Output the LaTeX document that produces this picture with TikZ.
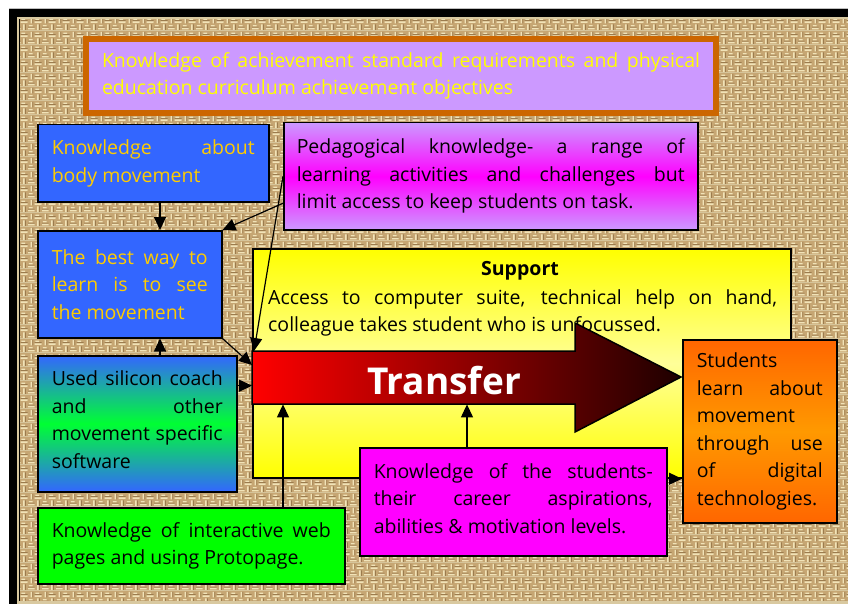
\documentclass[tikz,border=0pt]{standalone}
\usepackage{fontspec}
\setmainfont{Open Sans}
\usetikzlibrary{arrows.meta,patterns,calc}
\definecolor{burlap}{HTML}{C6A673}
\definecolor{burlaplight}{HTML}{F1E3B8}
\definecolor{burlapdark}{HTML}{84643A}
\definecolor{frameedge}{HTML}{D9C9A0}
\definecolor{lilac}{HTML}{CC99FF}
\definecolor{rustedge}{HTML}{CC6600}
\definecolor{topyellow}{HTML}{FFFF00}
\definecolor{boxblue}{HTML}{3366FF}
\definecolor{goldtext}{HTML}{FFCC00}
\definecolor{magenta2}{HTML}{FF00FF}
\definecolor{limegreen2}{HTML}{00FF33}
\definecolor{puregreen}{HTML}{00FF00}
\definecolor{paleyellow}{HTML}{FFFF99}
\definecolor{orangedeep}{HTML}{FF6600}
\definecolor{orangelight}{HTML}{FF9900}
\definecolor{arrowred}{HTML}{FF0000}
\definecolor{arrowdark}{HTML}{1E0000}
\pgfdeclarepatterninherentlycolored{burlapweave}{\pgfpointorigin}{\pgfpoint{14pt}{14pt}}{\pgfpoint{14pt}{14pt}}{%
  \pgfsetfillcolor{burlap}%
  \pgfpathrectangle{\pgfpointorigin}{\pgfpoint{14pt}{14pt}}\pgfusepath{fill}%
  \pgfsetlinewidth{1.5pt}\pgfsetstrokecolor{burlaplight}%
  \pgfpathmoveto{\pgfpoint{0pt}{1.5pt}}\pgfpathlineto{\pgfpoint{7pt}{1.5pt}}%
  \pgfpathmoveto{\pgfpoint{7pt}{8.5pt}}\pgfpathlineto{\pgfpoint{14pt}{8.5pt}}%
  \pgfpathmoveto{\pgfpoint{10.5pt}{0pt}}\pgfpathlineto{\pgfpoint{10.5pt}{6pt}}%
  \pgfpathmoveto{\pgfpoint{3.5pt}{7pt}}\pgfpathlineto{\pgfpoint{3.5pt}{13pt}}%
  \pgfpathmoveto{\pgfpoint{1pt}{4.5pt}}\pgfpathlineto{\pgfpoint{5pt}{4.5pt}}%
  \pgfpathmoveto{\pgfpoint{8pt}{11.5pt}}\pgfpathlineto{\pgfpoint{12pt}{11.5pt}}%
  \pgfusepath{stroke}%
  \pgfsetlinewidth{0.6pt}\pgfsetstrokecolor{burlapdark}%
  \pgfpathmoveto{\pgfpoint{0pt}{3pt}}\pgfpathlineto{\pgfpoint{7pt}{3pt}}%
  \pgfpathmoveto{\pgfpoint{7pt}{10pt}}\pgfpathlineto{\pgfpoint{14pt}{10pt}}%
  \pgfpathmoveto{\pgfpoint{12.2pt}{0pt}}\pgfpathlineto{\pgfpoint{12.2pt}{6pt}}%
  \pgfpathmoveto{\pgfpoint{5.2pt}{7pt}}\pgfpathlineto{\pgfpoint{5.2pt}{13pt}}%
  \pgfusepath{stroke}%
}
\newcommand\bxfont{\fontsize{19.5}{27.5}\selectfont\hyphenpenalty=10000\relax}
\tikzset{
  box/.style={draw=black, line width=1.5pt, inner xsep=14pt, inner ysep=3pt,
    anchor=north west, align=justify, font=\bxfont},
  arr/.style={line width=1.2pt, -{Triangle[length=13pt,width=12pt]}},
}
\begin{document}
\begin{tikzpicture}[x=1pt,y=-1pt]
\useasboundingbox (0,0) rectangle (848,604);
\clip (0,0) rectangle (848,604);
% frame and background
\fill[white] (0,0) rectangle (848,604);
\draw[black!25, line width=0.8pt] (9,8) -- (848,8);
\fill[black] (9,9) rectangle (870,620);
\fill[frameedge] (17,17) rectangle (870,620);
\draw[black, line width=1pt] (19.5,19.5) rectangle (880,600.5);
\fill[pattern=burlapweave] (20,20) rectangle (880,600);
% top box
\node[box, draw=rustedge, line width=6pt, fill=lilac, text=topyellow,
  minimum width=630, minimum height=74, inner xsep=16pt, text width=598pt] (top) at (83,36)
  {Knowledge of achievement standard requirements and physical\linebreak education curriculum achievement objectives};
% left column
\node[box, fill=boxblue, text=goldtext, minimum width=231, minimum height=77, text width=203pt] (body) at (37,124)
  {Knowledge about\linebreak body movement};
\node[box, top color=lilac, bottom color=lilac, middle color=magenta2, minimum width=414, minimum height=107,
  inner xsep=13pt, text width=388pt] (pedag) at (283,122)
  {Pedagogical knowledge- a range of\linebreak learning activities and challenges but\linebreak limit access to keep students on task.};
\node[box, fill=boxblue, text=goldtext, minimum width=184, minimum height=107, text width=156pt] (best) at (37,230)
  {The best way to\linebreak learn is to see\linebreak the movement};
% support box
\node[box, top color=topyellow, bottom color=topyellow, middle color=paleyellow,
  minimum width=538, minimum height=229] (support) at (252,248) {};
\node[font=\bxfont\bfseries, inner sep=0pt] (suphead) at (520,271) {Support};
\node[font=\bxfont, anchor=north west, inner sep=0pt, text width=509pt, align=justify] (suptext) at (268,289)
  {Access to computer suite, technical help on hand,\linebreak colleague takes student who is unfocussed.};
% transfer arrow
\shadedraw[left color=arrowred, right color=arrowdark, draw=black, line width=1.5pt, line join=miter]
  (252,351) -- (575,351) -- (575,323) -- (681,377) -- (575,432) -- (575,404) -- (252,404) -- cycle;
\node[inner sep=0pt, minimum width=323, minimum height=53, anchor=north west] (tbody) at (252,351) {};
\node[text=white, font=\fontsize{37}{40}\selectfont\bfseries, inner sep=0pt] (transfer) at (444,381) {Transfer};
% other boxes
\node[box, top color=boxblue, bottom color=boxblue, middle color=limegreen2, minimum width=199, minimum height=136,
  text width=171pt] (silicon) at (37,355)
  {Used silicon coach\linebreak and other\linebreak movement specific\linebreak software\vspace{8pt}};
\node[box, fill=puregreen, minimum width=307, minimum height=76, text width=279pt] (green) at (37,507)
  {Knowledge of interactive web\linebreak pages and using Protopage.};
\node[box, fill=magenta2, minimum width=307, minimum height=108, text width=279pt] (mag) at (359,447)
  {Knowledge of the students-\linebreak their career aspirations,\linebreak abilities \& motivation levels.\vspace{7pt}};
\node[box, top color=orangedeep, bottom color=orangedeep, middle color=orangelight, minimum width=154, minimum height=183,
  text width=126pt] (orange) at (682,339)
  {Students\linebreak learn about\linebreak movement\linebreak through use\linebreak of digital\linebreak technologies.};
% connectors
\draw[arr] ([xshift=123pt]body.south west) -- ([xshift=123pt]best.north west);
\draw[arr] ([yshift=-27pt]pedag.west) -- (best.north east);
\draw[arr] (pedag.west) -- ([xshift=2pt]tbody.north west);
\draw[arr] (best.south east) -- ([yshift=-14pt]tbody.north west);
\draw[arr] ([xshift=123pt]silicon.north west) -- ([xshift=123pt]best.south west);
\coordinate (tin) at ([yshift=-8pt]tbody.west);
\draw[arr] (silicon.east |- tin) -- (tin);
\draw[arr] ([xshift=246pt]green.north west) -- ([xshift=31pt]tbody.south west);
\draw[arr] ([xshift=108pt]mag.north west) -- ([xshift=215pt]tbody.south west);
\coordinate (mr) at ([yshift=23pt]mag.east);
\draw[arr] (mr) -- (mr -| orange.west);
\end{tikzpicture}
\end{document}
